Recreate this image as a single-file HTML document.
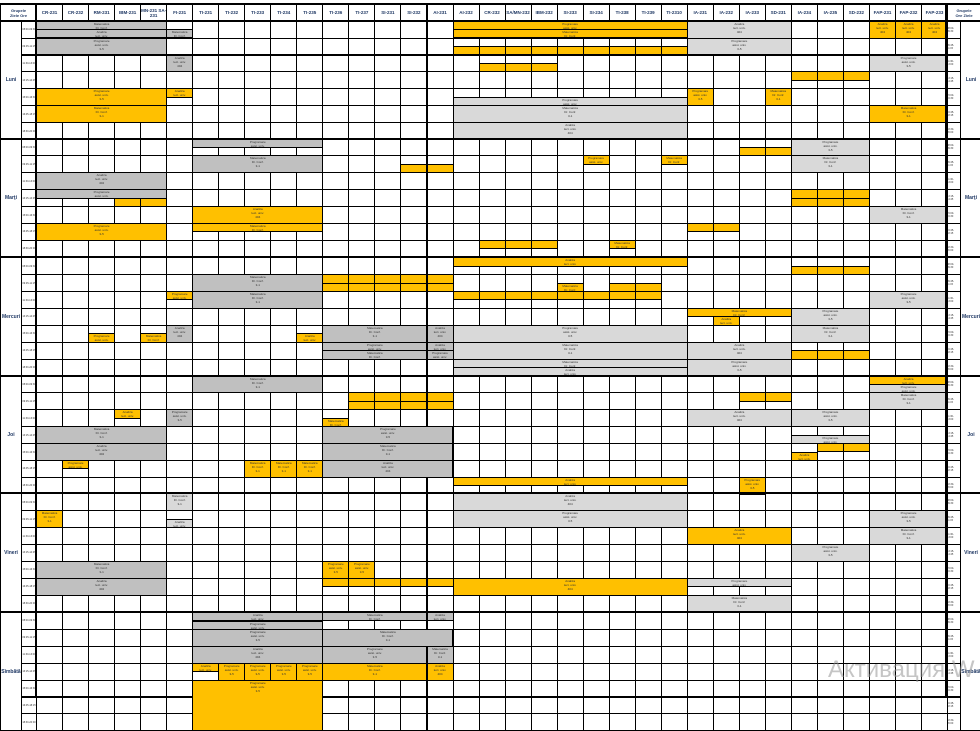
<!DOCTYPE html>
<html><head><meta charset="utf-8">
<style>
html,body{margin:0;padding:0;background:#fff;}
body{width:980px;height:696px;position:relative;overflow:hidden;font-family:"Liberation Sans",sans-serif;}
.c{position:absolute;box-sizing:border-box;border:1px solid #000;background:#fff;overflow:hidden;font-size:3px;line-height:4px;text-align:center;color:#333;}
.O{background:#ffc000;}
.G{background:#c0c0c0;}
.L{background:#d9d9d9;}
.h{position:absolute;box-sizing:border-box;border:1px solid #000;font-size:4.5px;font-weight:bold;color:#1f3864;display:flex;align-items:center;justify-content:center;text-align:center;line-height:5px;background:#fff;}
.day{position:absolute;box-sizing:border-box;border:1px solid #000;font-size:5px;font-weight:bold;color:#1f3864;display:flex;align-items:center;justify-content:center;background:#fff;overflow:hidden;}
.tm{position:absolute;box-sizing:border-box;border:1px solid #000;font-size:2.5px;color:#333;display:flex;align-items:center;justify-content:center;background:#fff;overflow:hidden;}
.thick{position:absolute;background:#000;}
.wm{position:absolute;left:828px;top:656px;font-size:24px;color:rgba(150,150,150,0.55);white-space:nowrap;}
</style></head><body>
<div id="root"></div>
<div class="wm">Активация W</div>
<script>
(function(){
var X0=36,CW=26.03,D=[20.7,138.5,257.3,375.5,493.3,612],SH=16.9;
var cols=["CR-231","CR-232","RM-231","IBM-231","MN-231 SA-231","FI-231","TI-231","TI-232","TI-233","TI-234","TI-235","TI-236","TI-237","SI-231","SI-232","AI-231","AI-232","CR-232","SA/MN-232","IBM-232","SI-233","SI-234","TI-238","TI-239","TI-2310","IA-231","IA-232","IA-233","SD-231","IA-234","IA-235","SD-232","FAP-231","FAP-232","FAP-233"];
var days=["Luni","Marţi","Mercuri","Joi","Vineri","Sîmbătă"];
var times=["08:00-09:30","09:45-11:15","11:30-13:00","13:15-14:45","15:00-16:30","16:45-18:15","18:30-20:00"];
var out="";
function box(cls,x,y,w,hh,t){out+='<div class="'+cls+'" style="left:'+Number(x).toFixed(1)+'px;top:'+Number(y).toFixed(1)+'px;width:'+(w+1).toFixed(1)+'px;height:'+(hh+1).toFixed(1)+'px">'+(t||"")+'</div>';}
box("h",0,4,36,16.7,'<span style="font-size:4px">Grupele<br>Ziele Ore</span>');
box("h",947,4,33,16.7,'<span style="font-size:4px">Grupele<br>Ore Ziele</span>');
for(var i=0;i<35;i++)box("h",X0+i*CW,4,CW,16.7,cols[i]);
for(var d=0;d<6;d++){
 var ty=D[d];
 out+='<div class="day" style="left:0;top:'+ty+'px;width:22px;height:119px">'+days[d]+'</div>';
 out+='<div class="day" style="left:960px;top:'+ty+'px;width:22px;height:119px">'+days[d]+'</div>';
 for(var s=0;s<7;s++){
  var y=ty+s*SH;
  out+='<div class="tm" style="left:21px;top:'+y+'px;width:16px;height:'+(SH+1)+'px">'+times[s]+'</div>';
  out+='<div class="tm" style="left:946px;top:'+y+'px;width:15px;height:'+(SH+1)+'px">'+times[s]+'</div>';
  for(var c=0;c<35;c++)box("c",X0+c*CW,y,CW,SH,"");
 }
}
var B=[
[0,0,.5,0,5,"G"],[0,.5,.5,0,5,"G"],[0,1,1,0,5,"G"],[0,.5,.5,5,1,"G"],[0,2,1,5,1,"G"],
[0,0,.5,16,9,"O"],[0,.5,.5,16,9,"O"],[0,0,1,25,4,"L"],[0,1,1,25,4,"L"],
[0,1.5,.5,16,9,"O",1],[0,2.5,.5,17,3,"O",1],
[0,4,1,0,5,"O"],[0,5,1,0,5,"O"],[0,4,.5,5,1,"O"],
[0,4.5,.5,16,9,"L"],[0,5,1,16,9,"L"],[0,6,1,16,9,"L"],
[0,4,1,25,1,"O"],[0,4,1,28,1,"O"],
[0,0,1,32,3,"O",1],[0,2,1,32,3,"L"],[0,5,1,32,3,"O"],[0,3,.5,29,3,"O",1],
[1,0,.5,6,5,"G"],[1,1,1,6,5,"G"],[1,2,1,0,5,"G"],[1,3,.5,0,5,"G"],[1,3.5,.5,3,2,"O",1],
[1,4,1,6,5,"O"],[1,5,1,0,5,"O"],[1,5,.5,6,5,"O"],[1,1.5,.5,14,2,"O",1],
[1,1,.5,21,1,"O"],[1,1,.5,24,1,"O"],[1,.5,.5,27,2,"O",1],
[1,0,1,29,3,"L"],[1,1,1,29,3,"L"],[1,3,.5,29,3,"O",1],[1,3.5,.5,29,3,"O",1],
[1,4,1,32,3,"L"],[1,5,.5,25,2,"O",1],[1,6,.5,17,3,"O",1],[1,6,.5,22,1,"O"],
[2,0,.5,16,9,"O"],[2,.5,.5,29,3,"O",1],[2,1,1,6,5,"G"],[2,1,.5,11,5,"O",1],[2,1.5,.5,11,5,"O",1],
[2,1.5,.5,20,1,"O"],[2,1.5,.5,22,2,"O",1],[2,2,.5,5,1,"O"],[2,2,1,6,5,"G"],[2,2,.5,16,8,"O",1],
[2,2,1,32,3,"L"],[2,3,.5,25,4,"O"],[2,3.5,.5,26,1,"O"],[2,3,1,29,3,"L"],
[2,4,1,11,4,"G"],[2,4,1,15,1,"G"],[2,4,1,16,9,"L"],[2,4,1,29,3,"L"],[2,4,1,5,1,"G"],
[2,4.5,.5,2,1,"O"],[2,4.5,.5,4,1,"O"],[2,4.5,.5,10,1,"O"],
[2,5,.5,11,4,"G"],[2,5.5,.5,11,4,"G"],[2,5,.5,15,1,"G"],[2,5.5,.5,15,1,"G"],
[2,5,1,16,9,"L"],[2,5,1,25,4,"L"],[2,5.5,.5,29,3,"O",1],[2,6,.5,16,9,"L"],[2,6.5,.5,16,9,"L"],[2,6,1,25,4,"L"],
[3,0,1,6,5,"G"],[3,0,.5,32,3,"O"],[3,.5,.5,32,3,"L"],[3,1,1,32,3,"L"],
[3,1,.5,12,4,"O",1],[3,1.5,.5,12,4,"O",1],[3,1,.5,27,2,"O",1],[3,2,.5,3,1,"O"],[3,2,1,5,1,"G"],
[3,2.5,.5,11,1,"O"],[3,2,1,25,4,"L"],[3,2,1,29,3,"L"],[3,3,1,0,5,"G"],[3,4,1,0,5,"G"],
[3,3,1,11,5,"G"],[3,4,1,11,5,"G"],[3,5,1,11,5,"G"],[3,3.5,.5,29,3,"L"],
[3,4,.5,30,2,"O",1],[3,4.5,.5,29,1,"O"],[3,5,.5,1,1,"O"],[3,5,1,8,3,"O",1],[3,6,.5,16,9,"O"],[3,6,1,27,1,"O"],
[4,0,1,5,1,"L"],[4,0,1,16,9,"L"],[4,1,1,16,9,"L"],[4,1,1,0,1,"O"],[4,1.5,.5,5,1,"L"],
[4,1,1,32,3,"L"],[4,2,1,32,3,"L"],[4,2,1,25,4,"O"],[4,3,1,29,3,"L"],
[4,4,1,0,5,"G"],[4,5,1,0,5,"G"],[4,4,1,11,2,"O",1],[4,5,.5,11,5,"O",1],[4,5,1,16,9,"O"],
[4,5,.5,25,4,"L"],[4,6,1,25,4,"L"],
[5,0,.5,6,5,"G"],[5,.5,.5,6,5,"G"],[5,0,.5,11,4,"G"],[5,0,.5,15,1,"G"],
[5,1,1,6,5,"G"],[5,1,1,11,5,"G"],[5,2,1,6,5,"G"],[5,2,1,11,4,"G"],[5,2,1,15,1,"G"],
[5,3,.5,6,1,"O"],[5,3,1,7,4,"O",1],[5,3,1,11,4,"O"],[5,3,1,15,1,"O"],[5,4,3,6,5,"O"]
];
var lbl=["Matematica<br>Dr. Conf.<br>3-1","Analiza<br>lect. univ.<br>404","Programare<br>asist. univ.<br>3-5"];
B.forEach(function(b,k){
 var y=D[b[0]]+b[1]*SH,hh=b[2]*SH,t=lbl[k%3];
 if(b[6]){for(var j=0;j<b[4];j++)box("c "+b[5],X0+(b[3]+j)*CW,y,CW,hh,b[2]>=1?t:"");}
 else box("c "+b[5],X0+b[3]*CW,y,b[4]*CW,hh,b[2]>=.5?t:"");
});
for(var d2=0;d2<6;d2++)out+='<div class="thick" style="left:0;top:'+(D[d2]-1)+'px;width:980px;height:2px"></div>';
out+='<div class="thick" style="left:0;top:3px;width:980px;height:2px"></div>';
out+='<div class="thick" style="left:35px;top:3px;width:2px;height:693px"></div>';
out+='<div class="thick" style="left:945px;top:3px;width:3px;height:693px"></div>';
out+='<div class="thick" style="left:0;top:3px;width:1px;height:693px"></div>';
document.getElementById("root").innerHTML=out;
})();
</script>
</body></html>
